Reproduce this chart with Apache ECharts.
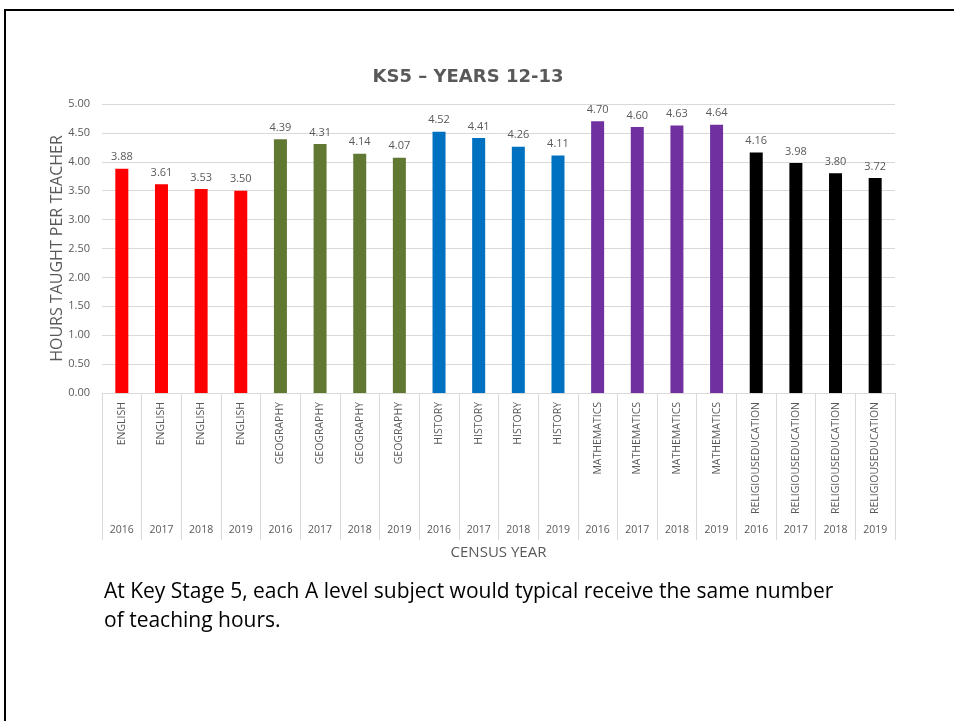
<!DOCTYPE html>
<html>
<head>
<meta charset="utf-8">
<script src="https://cdn.jsdelivr.net/npm/echarts@6/dist/echarts.min.js"></script>
<style>
  html, body { margin: 0; padding: 0; background: #fff; }
  #chart { width: 954px; height: 721px; }
</style>
</head>
<body>
<div id="chart"></div>
<script>
// 科目 / 年份 / 数值
var subjects = [
  "ENGLISH", "ENGLISH", "ENGLISH", "ENGLISH",
  "GEOGRAPHY", "GEOGRAPHY", "GEOGRAPHY", "GEOGRAPHY",
  "HISTORY", "HISTORY", "HISTORY", "HISTORY",
  "MATHEMATICS", "MATHEMATICS", "MATHEMATICS", "MATHEMATICS",
  "RELIGIOUSEDUCATION", "RELIGIOUSEDUCATION", "RELIGIOUSEDUCATION", "RELIGIOUSEDUCATION"
];
var years = [
  "2016", "2017", "2018", "2019",
  "2016", "2017", "2018", "2019",
  "2016", "2017", "2018", "2019",
  "2016", "2017", "2018", "2019",
  "2016", "2017", "2018", "2019"
];
var hours = [
  3.88, 3.61, 3.53, 3.50,
  4.39, 4.31, 4.14, 4.07,
  4.52, 4.41, 4.26, 4.11,
  4.70, 4.60, 4.63, 4.64,
  4.16, 3.98, 3.80, 3.72
];
var subjectColors = {
  ENGLISH: "#ff0000",
  GEOGRAPHY: "#607832",
  HISTORY: "#0070c0",
  MATHEMATICS: "#7030a0",
  RELIGIOUSEDUCATION: "#000000"
};

var myChart = echarts.init(document.getElementById("chart"));
var grey = "#595959";
var font = "Open Sans";

myChart.setOption({
  animation: false,
  textStyle: { fontFamily: font },
  title: {
    text: "KS5 – YEARS 12-13",
    left: 463,
    textAlign: "center",
    top: 63,
    textStyle: { fontSize: 18, fontWeight: "bold", color: grey, fontFamily: "DejaVu Sans" }
  },
  grid: { left: 102, right: 59, top: 104, bottom: 328, containLabel: false },
  xAxis: [
    {
      type: "category",
      data: subjects,
      axisLine: { lineStyle: { color: "#d9d9d9", width: 1 } },
      axisTick: { show: true, length: 147, lineStyle: { color: "#d9d9d9" } },
      axisLabel: { rotate: 90, fontSize: 10.5, color: grey, margin: 9, interval: 0 }
    },
    {
      type: "category",
      data: years,
      position: "bottom",
      offset: 124,
      axisLine: { show: false },
      axisTick: { show: false },
      axisLabel: { fontSize: 10.5, color: grey, margin: 8, interval: 0 },
      name: "CENSUS YEAR",
      nameLocation: "middle",
      nameGap: 28,
      nameTextStyle: { fontSize: 15, color: grey }
    }
  ],
  yAxis: {
    type: "value",
    min: 0,
    max: 5,
    interval: 0.5,
    name: "HOURS TAUGHT PER TEACHER",
    nameLocation: "middle",
    nameGap: 37,
    nameMoveOverlap: false,
    nameTextStyle: { fontSize: 16, color: grey },
    axisLine: { show: false },
    axisTick: { show: false },
    splitLine: { lineStyle: { color: "#d9d9d9" } },
    axisLabel: {
      fontSize: 11,
      color: grey,
      margin: 12,
      formatter: function (v) { return v.toFixed(2); }
    }
  },
  series: [
    {
      type: "bar",
      barWidth: 13,
      xAxisIndex: 0,
      data: hours.map(function (v, i) {
        return { value: v, itemStyle: { color: subjectColors[subjects[i]] } };
      }),
      label: {
        show: true,
        position: "top",
        distance: 6,
        fontSize: 11,
        color: grey,
        formatter: function (p) { return p.value.toFixed(2); }
      }
    }
  ],
  graphic: [
    {
      type: "rect",
      shape: { x: 5, y: 10, width: 1000, height: 800 },
      style: { fill: "none", stroke: "#000", lineWidth: 2 }
    },
    {
      type: "text",
      left: 104,
      top: 578,
      style: {
        text: "At Key Stage 5, each A level subject would typical receive the same number\nof teaching hours.",
        fontSize: 21,
        lineHeight: 29,
        fill: "#000",
        fontFamily: font
      }
    }
  ]
});
</script>
</body>
</html>
